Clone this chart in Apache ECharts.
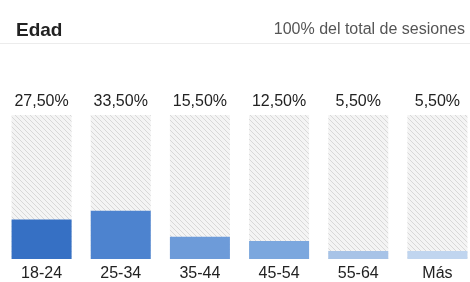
<!DOCTYPE html>
<html>
<head>
<meta charset="utf-8">
<style>
  html, body { margin: 0; padding: 0; background: #fff; }
  #main { width: 470px; height: 282px; }
</style>
<script src="https://cdn.jsdelivr.net/npm/echarts@6/dist/echarts.min.js"></script>
</head>
<body>
<div id="main"></div>
<script>
// datos del gráfico
const categories = ['18-24', '25-34', '35-44', '45-54', '55-64', 'Más']
const values = [27.5, 33.5, 15.5, 12.5, 5.5, 5.5]
const labels = ['27,50%', '33,50%', '15,50%', '12,50%', '5,50%', '5,50%']
const colors = ['#3670c4', '#4d83cf', '#6d9bd9', '#7ba7de', '#a7c3e7', '#c0d5ef']
const totals = [100, 100, 100, 100, 100, 100]

// patrón rayado del fondo
function hatch() {
  const c = document.createElement('canvas')
  c.width = 5
  c.height = 5
  const ctx = c.getContext('2d')
  ctx.fillStyle = '#f4f4f4'
  ctx.fillRect(0, 0, 5, 5)
  ctx.strokeStyle = '#d8d8d8'
  ctx.lineWidth = 1
  ctx.beginPath()
  ctx.moveTo(-1, -1); ctx.lineTo(6, 6)
  ctx.moveTo(-6, -1); ctx.lineTo(1, 6)
  ctx.moveTo(4, -1); ctx.lineTo(11, 6)
  ctx.stroke()
  return c
}

const myChart = echarts.init(document.getElementById('main'))
myChart.setOption({
  animation: false,
  title: {
    text: 'Edad',
    left: 11,
    top: 16,
    textStyle: { fontFamily: 'Liberation Sans', fontSize: 19, fontWeight: 'bold', color: '#222' }
  },
  graphic: [
    {
      type: 'text',
      right: 5,
      top: 22,
      style: { text: '100% del total de sesiones', font: '16px "Liberation Sans"', fill: '#555' }
    },
    {
      type: 'rect',
      left: 0,
      top: 43,
      shape: { width: 470, height: 1 },
      style: { fill: '#ececec' }
    }
  ],
  grid: { left: 2, top: 115, width: 475, bottom: 23, outerBoundsMode: 'none' },
  xAxis: {
    type: 'category',
    data: categories,
    axisLine: { show: false },
    axisTick: { show: false },
    axisLabel: { margin: 7, fontFamily: 'Liberation Sans', fontSize: 16, color: '#222' }
  },
  yAxis: { type: 'value', min: 0, max: 100, show: false },
  series: [
    {
      type: 'bar',
      data: totals,
      barWidth: 60,
      barGap: '-100%',
      silent: true,
      itemStyle: { color: { image: hatch(), repeat: 'repeat' } },
      label: {
        show: true,
        position: 'top',
        distance: 5,
        formatter: (p) => labels[p.dataIndex],
        fontFamily: 'Liberation Sans',
        fontSize: 16,
        color: '#222'
      }
    },
    {
      type: 'bar',
      barWidth: 60,
      data: values.map((v, i) => ({ value: v, itemStyle: { color: colors[i] } }))
    }
  ]
})
</script>
</body>
</html>
